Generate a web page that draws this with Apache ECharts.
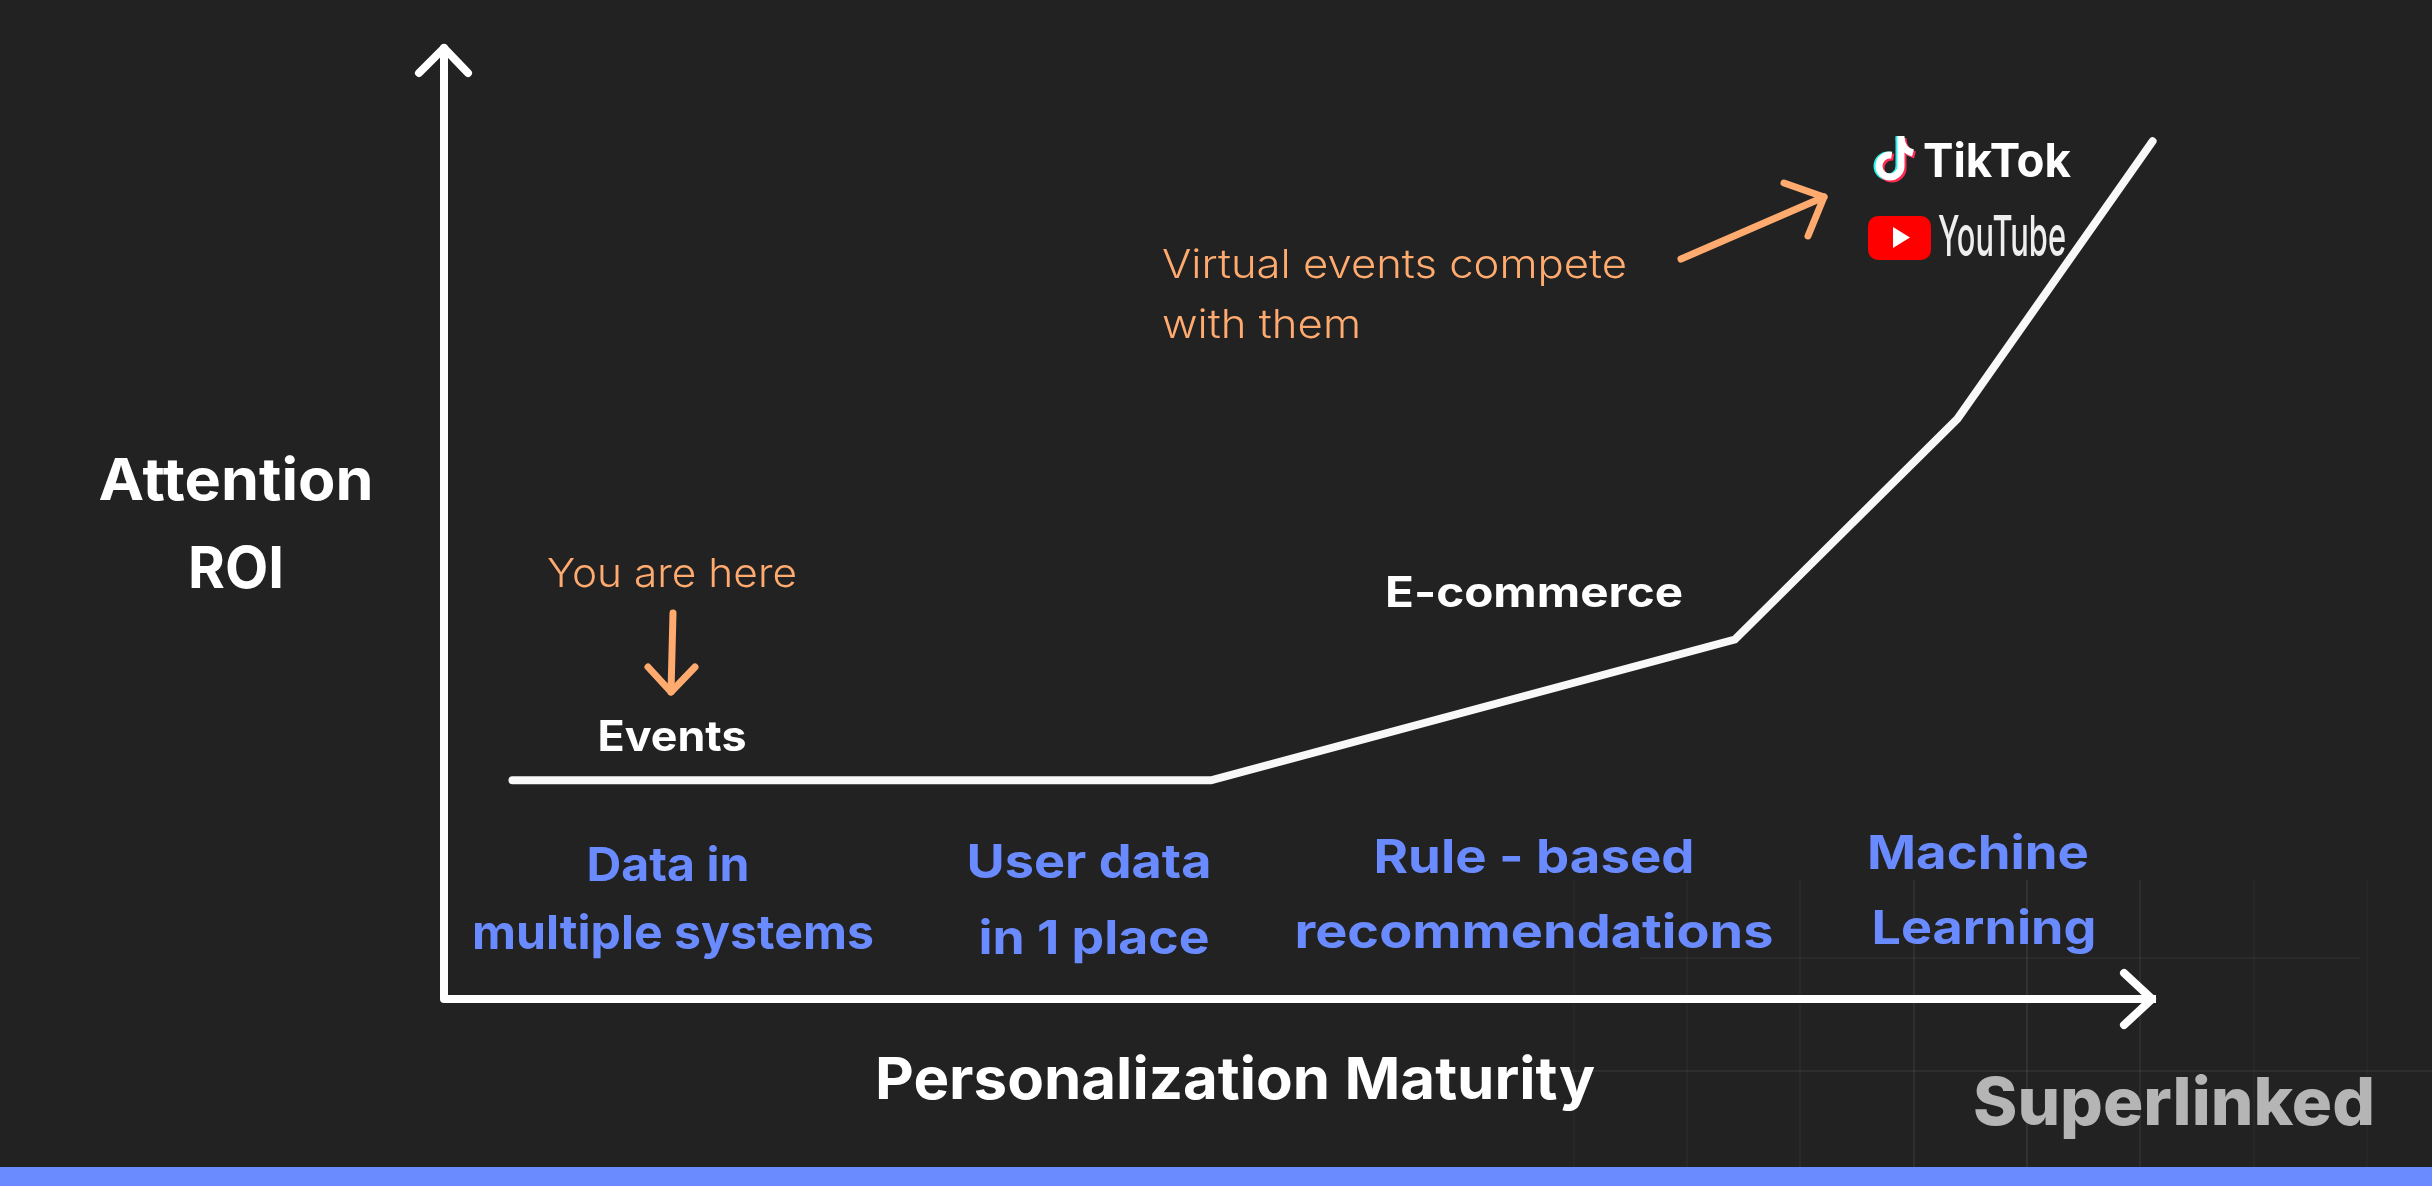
<!DOCTYPE html>
<html>
<head>
<meta charset="utf-8">
<style>
  html, body { margin: 0; padding: 0; background: #222222; }
  #chart { width: 2432px; height: 1186px; }
</style>
<script src="https://cdn.jsdelivr.net/npm/echarts@6/dist/echarts.min.js"></script>
</head>
<body>
<div id="chart"></div>
<script>
// curve (axis units 0-100)
const maturity = [4, 44.8, 75.4, 88.4, 99.8]
const roi = [23, 23, 37.8, 61, 90.2]

const yAxisTitle = ['Attention', 'ROI']
const xAxisTitle = 'Personalization Maturity'
const stageLabels = [
  ['Data in', 'multiple systems'],
  ['User data', 'in 1 place'],
  ['Rule - based', 'recommendations'],
  ['Machine', 'Learning']
]
const curveLabels = ['Events', 'E-commerce']
const note1 = 'You are here'
const note2 = ['Virtual events compete', 'with them']
const brands = ['TikTok', 'YouTube']
const watermark = 'Superlinked'

const BG = '#222222'
const WHITE = '#ffffff'
const BLUE = '#6a8bff'
const ORANGE = '#ffaa6e'
const FONT = 'Inter'

const measureCtx = document.createElement('canvas').getContext('2d')

// the original face is wider than Inter, so squeeze/stretch each string to the width it has in the picture
function text(str, x, y, size, weight, color, width, align, family) {
  const font = weight + ' ' + size + 'px ' + (family || FONT)
  measureCtx.font = font
  return {
    type: 'text',
    silent: true,
    z: 10,
    x: x,
    y: y,
    scaleX: width / measureCtx.measureText(str).width,
    style: {
      text: str,
      x: 0,
      y: 0,
      fill: color,
      font: font,
      textAlign: align || 'center',
      textVerticalAlign: 'middle'
    }
  }
}

function stroke(points, color, width) {
  return {
    type: 'polyline',
    silent: true,
    z: 5,
    shape: { points: points },
    style: { stroke: color, lineWidth: width, fill: null, lineCap: 'round', lineJoin: 'round' }
  }
}

// tiktok note, drawn three times for the cyan / red edges
function note(dx, dy, color) {
  const st = { stroke: color, lineWidth: 7, fill: null, lineCap: 'butt' }
  return [
    { type: 'arc', silent: true, z: 6, shape: { cx: 1890 + dx, cy: 166 + dy, r: 11, startAngle: 0, endAngle: Math.PI * 1.55, clockwise: true }, style: st },
    { type: 'polyline', silent: true, z: 6, shape: { points: [[1901 + dx, 166 + dy], [1901 + dx, 136 + dy]] }, style: st },
    { type: 'bezierCurve', silent: true, z: 6, shape: { x1: 1901 + dx, y1: 138 + dy, cpx1: 1902 + dx, cpy1: 150 + dy, x2: 1913 + dx, y2: 153 + dy }, style: st }
  ]
}

const graphics = []

// faint grid texture behind the bottom right corner
const texX = [1574, 1687, 1800, 1914, 2027, 2140, 2254, 2367]
const texA = [0.04, 0.06, 0.07, 0.12, 0.14, 0.1, 0.06, 0.04]
texX.forEach(function (x, i) {
  graphics.push({ type: 'line', silent: true, z: 1, shape: { x1: x, y1: 880, x2: x, y2: 1186 }, style: { stroke: 'rgba(255,255,255,' + texA[i] + ')', lineWidth: 1 } })
})
graphics.push({ type: 'line', silent: true, z: 1, shape: { x1: 1640, y1: 958, x2: 2360, y2: 958 }, style: { stroke: 'rgba(255,255,255,0.08)', lineWidth: 1 } })
graphics.push({ type: 'line', silent: true, z: 1, shape: { x1: 1570, y1: 1071, x2: 2432, y2: 1071 }, style: { stroke: 'rgba(255,255,255,0.1)', lineWidth: 1 } })

// bottom band
graphics.push({ type: 'rect', silent: true, z: 2, shape: { x: 0, y: 1167, width: 2432, height: 19 }, style: { fill: BLUE } })

// axis arrow heads
graphics.push(stroke([[419, 73], [444, 48], [468, 73]], WHITE, 8))
graphics.push(stroke([[2124, 973], [2152, 999], [2124, 1025]], WHITE, 8))

// orange arrows
graphics.push(stroke([[673, 613], [671, 692]], ORANGE, 7))
graphics.push(stroke([[648, 667], [671, 692], [695, 667]], ORANGE, 7))
graphics.push(stroke([[1681, 259], [1824, 197]], ORANGE, 7))
graphics.push(stroke([[1784, 183], [1824, 197], [1808, 236]], ORANGE, 7))

// texts
graphics.push(text(yAxisTitle[0], 236, 483, 58, 700, WHITE, 275))
graphics.push(text(yAxisTitle[1], 236, 571, 58, 700, WHITE, 96))
graphics.push(text(xAxisTitle, 1235, 1082, 58, 700, WHITE, 720))
graphics.push(text(note1, 672, 575, 40, 300, ORANGE, 250))
graphics.push(text(note2[0], 1162, 266, 40, 300, ORANGE, 465, 'left'))
graphics.push(text(note2[1], 1162, 326, 40, 300, ORANGE, 199, 'left'))
graphics.push(text(curveLabels[0], 672, 738, 42, 700, WHITE, 149))
graphics.push(text(curveLabels[1], 1534, 594, 42, 700, WHITE, 298))

const stagePos = [
  [[668, 867], [673, 935]],
  [[1089, 864], [1094, 940]],
  [[1534, 859], [1534, 934]],
  [[1978, 855], [1984, 930]]
]
const stageWidths = [[163, 402], [245, 231], [321, 479], [222, 225]]
stageLabels.forEach(function (lines, i) {
  lines.forEach(function (line, j) {
    graphics.push(text(line, stagePos[i][j][0], stagePos[i][j][1], 47, 700, BLUE, stageWidths[i][j]))
  })
})

graphics.push(text(watermark, 2174, 1105, 66, 800, '#b5b5b5', 402))

// logos
note(-2, 0, '#25f4ee').concat(note(2, 2, '#fe2c55'), note(0, 0, WHITE)).forEach(function (el) {
  graphics.push(el)
})
graphics.push(text(brands[0], 1923, 163, 47, 700, WHITE, 148, 'left'))
graphics.push({ type: 'rect', silent: true, z: 6, shape: { x: 1868, y: 216, width: 63, height: 44, r: 10 }, style: { fill: '#ff0000' } })
graphics.push({ type: 'polygon', silent: true, z: 7, shape: { points: [[1893, 227], [1893, 248], [1910, 237.5]] }, style: { fill: WHITE } })
graphics.push(text(brands[1], 1938, 239, 56, 500, '#eeeeee', 128, 'left'))

const chart = echarts.init(document.getElementById('chart'), null, { renderer: 'canvas' })
chart.setOption({
  animation: false,
  backgroundColor: BG,
  grid: { left: 444, right: 276, top: 48, bottom: 187 },
  xAxis: {
    type: 'value',
    min: 0,
    max: 100,
    axisLine: { show: true, lineStyle: { color: WHITE, width: 8, cap: 'butt' } },
    axisTick: { show: false },
    axisLabel: { show: false },
    splitLine: { show: false }
  },
  yAxis: {
    type: 'value',
    min: 0,
    max: 100,
    axisLine: { show: true, lineStyle: { color: WHITE, width: 8, cap: 'round' } },
    axisTick: { show: false },
    axisLabel: { show: false },
    splitLine: { show: false }
  },
  graphic: graphics,
  series: [
    {
      name: 'Attention ROI',
      type: 'line',
      data: maturity.map(function (m, i) { return [m, roi[i]] }),
      showSymbol: false,
      lineStyle: { color: '#f8f8f8', width: 8, cap: 'round', join: 'miter' }
    }
  ]
})
</script>
</body>
</html>
